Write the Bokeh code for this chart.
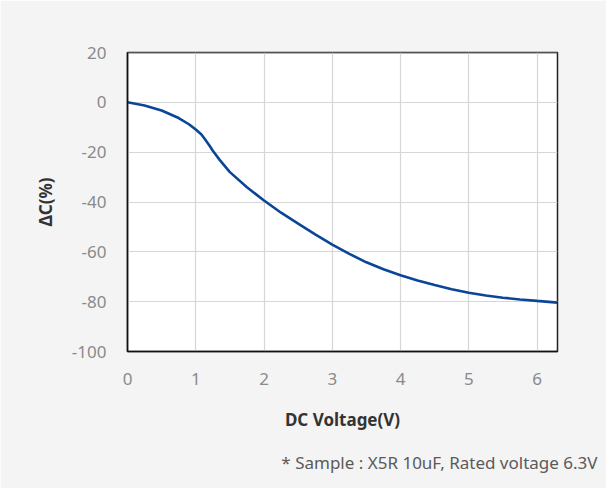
from bokeh.plotting import figure
from bokeh.models import Range1d, FixedTicker, Span, Title, PrintfTickFormatter
from bokeh.embed import file_html
from bokeh.resources import INLINE

voltage = [0, 0.25, 0.5, 0.75, 0.9, 1.0, 1.08, 1.13, 1.2, 1.25, 1.35, 1.5, 1.75, 2.0, 2.25, 2.5, 2.75, 3.0,
           3.25, 3.5, 3.75, 4.0, 4.25, 4.5, 4.75, 5.0, 5.25, 5.5, 5.75, 6.0, 6.3]
delta_c = [0, -1.3, -3.3, -6.3, -8.8, -10.9, -12.8, -14.6, -17.3, -19.4, -23.1, -28.0, -34.1, -39.4, -44.3,
           -48.7, -53.0, -57.1, -60.8, -64.2, -67.0, -69.4, -71.5, -73.3, -75.0, -76.4, -77.5, -78.4, -79.1,
           -79.7, -80.4]
x_ticks = [0, 1, 2, 3, 4, 5, 6]
y_ticks = [20, 0, -20, -40, -60, -80, -100]

FONT = "Noto Sans"

p = figure(width=606, height=488, output_backend="svg", toolbar_location=None,
           x_range=Range1d(0, 6.3), y_range=Range1d(-100, 20),
           min_border_left=127, min_border_right=49, min_border_top=52, min_border_bottom=136)
p.background_fill_color = "white"
p.border_fill_color = "#f4f4f4"
p.outline_line_color = "#222222"
p.outline_line_width = 1.5

p.line(voltage, delta_c, line_color="#0b4597", line_width=2.6)

for ax in (p.xaxis, p.yaxis):
    ax.major_tick_line_color = None
    ax.minor_tick_line_color = None
    ax.axis_line_color = "#111111"
    ax.axis_line_width = 1.5
    ax.major_label_text_font = FONT
    ax.major_label_text_font_size = "17px"
    ax.major_label_text_color = "#8a8a8a"
    ax.axis_label_text_font = FONT
    ax.axis_label_text_font_size = "17px"
    ax.axis_label_text_font_style = "bold"
    ax.axis_label_text_color = "#333333"
    ax.formatter = PrintfTickFormatter(format="%d")

p.xaxis.ticker = FixedTicker(ticks=x_ticks)
p.yaxis.ticker = FixedTicker(ticks=y_ticks)
p.xaxis.axis_label = "DC Voltage(V)"
p.yaxis.axis_label = "ΔC(%)"
p.xaxis.major_label_standoff = 15
p.yaxis.major_label_standoff = 15
p.xaxis.axis_label_standoff = 20
p.yaxis.axis_label_standoff = 12

p.xgrid.grid_line_color = "#d6d6d6"
p.ygrid.grid_line_color = "#d6d6d6"
p.xgrid.grid_line_width = 1.2
p.ygrid.grid_line_width = 1.2

p.add_layout(Span(location=20, dimension="width", line_color="#808080", line_width=1.5))

cap = Title(text="* Sample : X5R 10uF, Rated voltage 6.3V", align="right", offset=-40,
            text_font=FONT, text_font_size="17px", text_font_style="normal",
            text_color="#5a5a5a", standoff=30)
p.add_layout(cap, "below")

open("out.html", "w").write(file_html(p, INLINE))
